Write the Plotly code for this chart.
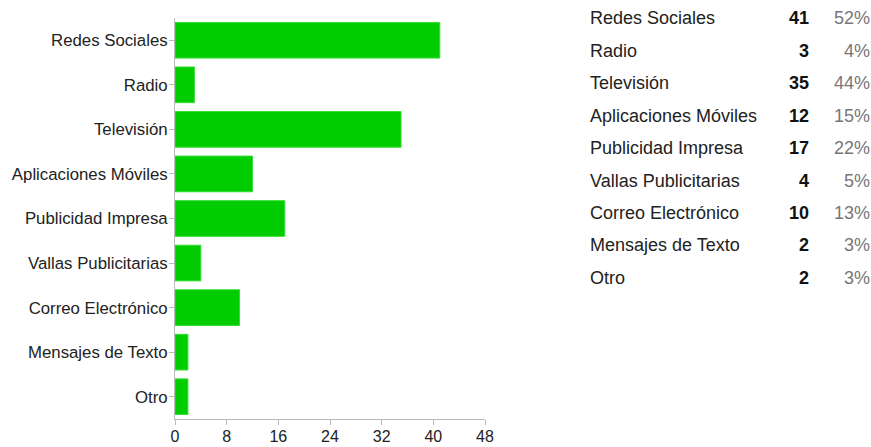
import plotly.graph_objects as go

# Survey answers: media channel and number of respondents
categories = [
    "Redes Sociales", "Radio", "Televisión", "Aplicaciones Móviles",
    "Publicidad Impresa", "Vallas Publicitarias", "Correo Electrónico",
    "Mensajes de Texto", "Otro",
]
counts = [41, 3, 35, 12, 17, 4, 10, 2, 2]
percents = ["52%", "4%", "44%", "15%", "22%", "5%", "13%", "3%", "3%"]
x_ticks = [0, 8, 16, 24, 32, 40, 48]

W, H = 871, 447
FONT = "Liberation Sans, Arial, sans-serif"

fig = go.Figure(
    go.Bar(
        x=counts,
        y=categories,
        orientation="h",
        width=0.8,
        marker=dict(color="#00cc00", line=dict(color="#33dd33", width=1)),
        hoverinfo="x+y",
    )
)

fig.update_layout(
    width=W,
    height=H,
    margin=dict(l=0, r=0, t=0, b=0),
    paper_bgcolor="white",
    plot_bgcolor="white",
    showlegend=False,
    font=dict(family=FONT, color="#222222"),
    bargap=0.2,
)

fig.update_xaxes(
    domain=[175 / W, 485 / W],
    range=[0, 48],
    tickvals=x_ticks,
    ticks="outside",
    ticklen=5,
    tickcolor="#bbbbbb",
    showline=True,
    linecolor="#bbbbbb",
    linewidth=1,
    showgrid=False,
    zeroline=False,
    tickfont=dict(size=16, color="#222222"),
    ticklabelstandoff=-2,
    automargin=False,
)

fig.update_yaxes(
    domain=[28 / H, 429 / H],
    categoryorder="array",
    categoryarray=categories[::-1],
    ticks="outside",
    ticklen=5,
    tickcolor="#bbbbbb",
    showline=True,
    linecolor="#bbbbbb",
    linewidth=1,
    showgrid=False,
    tickfont=dict(size=16.8, color="#222222"),
    ticklabelstandoff=-2,
    automargin=False,
)

# Summary table on the right: label, count (bold) and share
row_top = 18.5
row_step = 32.4
for i, (name, n, pct) in enumerate(zip(categories, counts, percents)):
    yp = 1 - (row_top + i * row_step) / H
    common = dict(xref="paper", yref="paper", y=yp, yanchor="middle",
                  showarrow=False, borderpad=0)
    fig.add_annotation(text=name, x=589 / W, xanchor="left",
                       font=dict(size=18, color="#222222", family=FONT),
                       **common)
    fig.add_annotation(text=f"<b>{n}</b>", x=810 / W, xanchor="right",
                       font=dict(size=18, color="#111111", family=FONT),
                       **common)
    fig.add_annotation(text=pct, x=871 / W, xanchor="right",
                       font=dict(size=18, color="#777777", family=FONT),
                       **common)

fig.write_html("out.html")
